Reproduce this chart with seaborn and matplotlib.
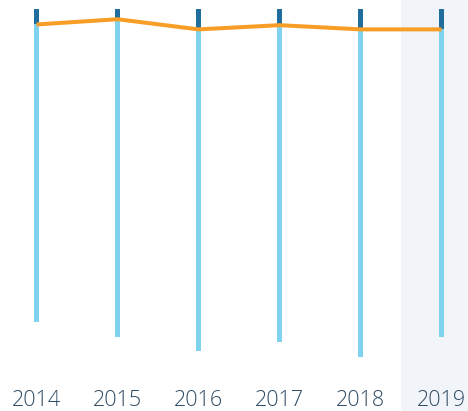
import matplotlib
matplotlib.use("Agg")
import matplotlib.pyplot as plt
import seaborn as sns
import pandas as pd

years = ["2014", "2015", "2016", "2017", "2018", "2019"]
totals = [89.4, 93.7, 97.7, 95.1, 99.4, 93.7]
top_share = [4.4, 2.9, 5.8, 4.6, 5.8, 5.8]

LIGHT = "#7fd3ef"
DARK = "#1f6e9e"
ORANGE = "#f89e27"
HILITE = "#f1f5fa"
TEXT = "#2f4b62"

sns.set_theme(style="white")
plt.rcParams["font.family"] = ["Open Sans", "DejaVu Sans"]

df = pd.DataFrame({"year": years, "total": totals, "top": top_share})

fig = plt.figure(figsize=(4.68, 4.11), dpi=100)
ax = fig.add_axes([0.0, 0.0839, 1.0, 0.894])

# highlighted latest year, stretched over the label area
ax.axvspan(4.5, 5.6, ymin=-0.12, ymax=1.03, color=HILITE, zorder=0,
           clip_on=False, lw=0)

sns.barplot(data=df, x="year", y="total", color=LIGHT, width=0.062,
            saturation=1, linewidth=0, ax=ax, zorder=2)
sns.barplot(data=df, x="year", y="top", color=DARK, width=0.062,
            saturation=1, linewidth=0, ax=ax, zorder=3)
sns.lineplot(data=df, x="year", y="top", color=ORANGE, lw=2.9, ax=ax,
             zorder=4, solid_capstyle="butt")

ax.set_ylim(105, 0)
ax.set_xlim(-36.5 / 81, (468 - 36.5) / 81)
ax.set_xlabel("")
ax.set_ylabel("")
ax.set_yticks([])
ax.tick_params(axis="x", length=0, pad=10, labelsize=15.5, labelcolor=TEXT)
for lbl in ax.get_xticklabels():
    lbl.set_fontweight("light")
for s in ax.spines.values():
    s.set_visible(False)
ax.patch.set_alpha(0)

fig.savefig("out.png", dpi=100)
